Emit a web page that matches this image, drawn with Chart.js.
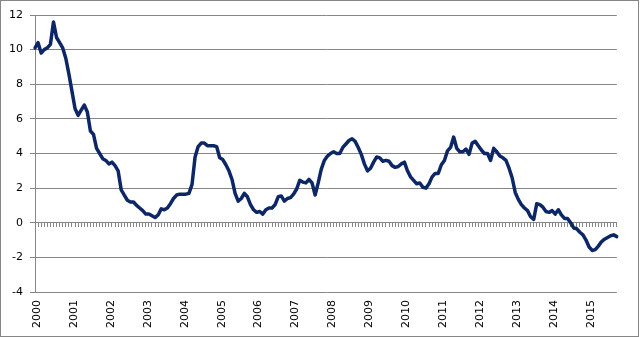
<!DOCTYPE html>
<html>
<head>
<meta charset="utf-8">
<script src="https://cdn.jsdelivr.net/npm/chart.js@4"></script>
<style>
  body { margin: 0; background: #fff; }
  .box { width: 639px; height: 337px; border: 1px solid #868686; box-sizing: border-box; }
  canvas { display: block; }
</style>
</head>
<body>
<div class="box"><canvas id="myChart" width="637" height="335"></canvas></div>
<script>
// monthly rate, Jan 2000 .. Oct 2015
const years = ['2000', '2001', '2002', '2003', '2004', '2005', '2006', '2007',
    '2008', '2009', '2010', '2011', '2012', '2013', '2014', '2015']

const monthly = [
    10.1, 10.4, 9.8, 10.0, 10.1, 10.3, 11.6, 10.7, 10.4, 10.1, 9.5, 8.6,
    7.6, 6.6, 6.2, 6.5, 6.8, 6.4, 5.3, 5.1, 4.3, 4.0, 3.7, 3.6,
    3.4, 3.5, 3.3, 3.0, 1.9, 1.6, 1.3, 1.2, 1.2, 1.0, 0.85, 0.7,
    0.5, 0.5, 0.4, 0.3, 0.45, 0.8, 0.75, 0.85, 1.1, 1.4, 1.6, 1.65,
    1.65, 1.65, 1.7, 2.2, 3.8, 4.4, 4.6, 4.6, 4.45, 4.45, 4.45, 4.4,
    3.75, 3.65, 3.35, 3.0, 2.5, 1.7, 1.25, 1.4, 1.7, 1.5, 1.05, 0.75,
    0.6, 0.65, 0.5, 0.75, 0.85, 0.85, 1.05, 1.5, 1.55, 1.25, 1.4, 1.45,
    1.65, 1.95, 2.45, 2.35, 2.3, 2.5, 2.3, 1.6, 2.3, 3.1, 3.6, 3.85,
    4.0, 4.1, 4.0, 4.0, 4.35, 4.55, 4.75, 4.85, 4.7, 4.35, 3.95, 3.4,
    3.0, 3.15, 3.5, 3.8, 3.75, 3.55, 3.6, 3.55, 3.3, 3.2, 3.25, 3.4,
    3.5, 3.0, 2.65, 2.45, 2.25, 2.3, 2.05, 2.0, 2.25, 2.65, 2.85, 2.85,
    3.35, 3.6, 4.15, 4.35, 4.95, 4.3, 4.1, 4.1, 4.25, 3.95, 4.6, 4.7,
    4.45, 4.2, 4.0, 4.0, 3.6, 4.3, 4.1, 3.85, 3.75, 3.6, 3.15, 2.6,
    1.75, 1.35, 1.05, 0.85, 0.7, 0.35, 0.2, 1.1, 1.05, 0.9, 0.65, 0.6,
    0.7, 0.5, 0.75, 0.45, 0.25, 0.25, 0.0, -0.3, -0.35, -0.55, -0.7, -1.0,
    -1.4, -1.6, -1.55, -1.35, -1.1, -0.95, -0.85, -0.75, -0.7, -0.8
]

const yMin = -4
const yMax = 12
const yStep = 2

// one label per month, only January gets the year
const labels = monthly.map((v, i) => i % 12 === 0 ? years[i / 12] : '')

const gray = '#868686'

const chartManagement = function () {
    const ctx = document.getElementById('myChart')
    new Chart(ctx, {
        type: 'line',
        data: {
            labels: labels,
            datasets: [{
                data: monthly,
                borderColor: '#0d2766',
                borderWidth: 3.5,
                borderJoinStyle: 'round',
                borderCapStyle: 'round',
                pointRadius: 0,
                tension: 0,
                fill: false
            }]
        },
        options: {
            responsive: false,
            animation: false,
            layout: { padding: { top: 14, right: 15, left: 0, bottom: 0 } },
            plugins: { legend: { display: false }, tooltip: { enabled: false } },
            scales: {
                // month ticks along the zero line
                x: {
                    type: 'category',
                    position: { y: 0 },
                    offset: false,
                    grid: { drawOnChartArea: false, drawTicks: true, tickLength: 4, color: gray },
                    border: { display: true, color: gray },
                    ticks: { display: false, autoSkip: false }
                },
                // year labels under the plot
                years: {
                    type: 'category',
                    position: 'bottom',
                    offset: false,
                    grid: { display: false, drawTicks: false },
                    border: { display: false },
                    ticks: {
                        autoSkip: false,
                        maxRotation: 90,
                        minRotation: 90,
                        padding: 8,
                        labelOffset: 2,
                        color: '#000',
                        font: { family: 'DejaVu Sans', size: 11 }
                    },
                    afterFit: function (scale) { scale.height = 44 }
                },
                y: {
                    min: yMin,
                    max: yMax,
                    grid: { color: gray, tickLength: 5 },
                    border: { display: true, color: gray },
                    ticks: {
                        stepSize: yStep,
                        padding: 7,
                        color: '#000',
                        font: { family: 'DejaVu Sans', size: 11 }
                    },
                    afterFit: function (scale) { scale.width = 34 }
                }
            }
        }
    })
}
chartManagement()
</script>
</body>
</html>
